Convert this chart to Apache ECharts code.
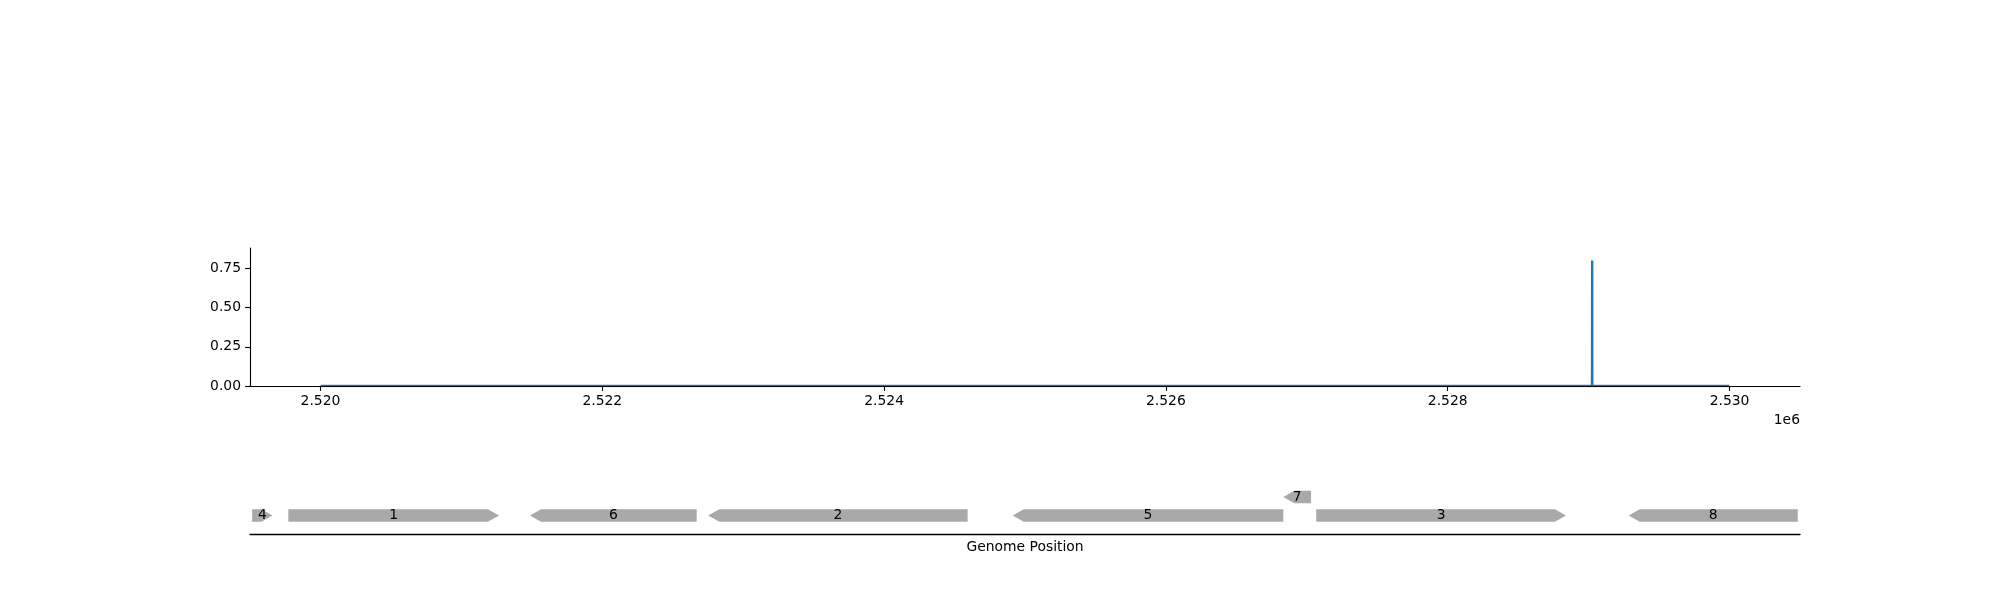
<!DOCTYPE html>
<html>
<head>
<meta charset="utf-8">
<script src="https://cdn.jsdelivr.net/npm/echarts@6/dist/echarts.min.js"></script>
<style>
html,body{margin:0;padding:0;background:#fff;}
#chart{width:2000px;height:600px;}
</style>
</head>
<body>
<div id="chart"></div>
<script>
// ---- data ----
const coverageX = [2520000, 2529024, 2529025, 2529026, 2530000];
const coverageY = [0, 0, 0.8, 0, 0];
const xTicks = [2520000, 2522000, 2524000, 2526000, 2528000, 2530000];
const yTicks = [0, 0.25, 0.5, 0.75];
const geneLabels = ['4', '1', '6', '2', '5', '7', '3', '8'];
const geneStarts = [2519515, 2519772, 2521487, 2522752, 2524913, 2526833, 2527067, 2529284];
const geneEnds   = [2519660, 2521267, 2522670, 2524593, 2526833, 2527030, 2528839, 2530484];
const geneStrands = [1, 1, -1, -1, -1, -1, 1, -1];
const geneLevels = [1, 1, 1, 1, 1, 2, 1, 1];

const X_MIN = 2519500, X_MAX = 2530500;
const FONT = 'DejaVu Sans';
const FS = 13.9;

const chart = echarts.init(document.getElementById('chart'), null, {renderer: 'canvas'});

const lineData = coverageX.map((x, i) => [x, coverageY[i]]);
const geneData = geneLabels.map((l, i) => [geneStarts[i], geneEnds[i], geneLevels[i], geneStrands[i], l]);

const GENE_H = 0.67;   // in track units
const HEAD_PX = 11;

function renderGene(params, api) {
  const s = api.value(0), e = api.value(1), lvl = api.value(2), strand = api.value(3);
  const label = geneLabels[params.dataIndex];
  const p0 = api.coord([s, lvl]);
  const p1 = api.coord([e, lvl]);
  const h = api.size([0, GENE_H])[1];
  const x0 = p0[0], x1 = p1[0], y = p0[1];
  const head = Math.min(HEAD_PX, (x1 - x0));
  let pts;
  if (strand > 0) {
    pts = [[x0, y - h/2], [x1 - head, y - h/2], [x1, y], [x1 - head, y + h/2], [x0, y + h/2]];
  } else {
    pts = [[x0, y], [x0 + head, y - h/2], [x1, y - h/2], [x1, y + h/2], [x0 + head, y + h/2]];
  }
  return {
    type: 'group',
    children: [
      {type: 'polygon', shape: {points: pts}, style: {fill: '#a9a9a9', stroke: null}},
      {type: 'text', style: {text: label, x: (x0 + x1) / 2, y: y, align: 'center', verticalAlign: 'middle',
        fill: '#000', font: FS + 'px "' + FONT + '"'}}
    ]
  };
}

const option = {
  backgroundColor: '#fff',
  animation: false,
  textStyle: {fontFamily: FONT},
  grid: [
    {left: 250, width: 1550, top: 248, height: 138},
    {left: 250, width: 1550, top: 478.5, height: 55.5}
  ],
  xAxis: [
    {
      type: 'value', gridIndex: 0, min: X_MIN, max: X_MAX, z: 5,
      axisLine: {show: true, onZero: false, lineStyle: {color: '#000', width: 1.1}},
      axisTick: {show: true, length: 4.9, lineStyle: {color: '#000', width: 1.1}, customValues: xTicks},
      axisLabel: {show: true, margin: 8, color: '#000', fontSize: FS, fontFamily: FONT, customValues: xTicks,
        formatter: v => (v / 1e6).toFixed(3)},
      splitLine: {show: false}
    },
    {
      type: 'value', gridIndex: 1, min: X_MIN, max: X_MAX,
      axisLine: {show: true, onZero: false, lineStyle: {color: '#000', width: 1.4}},
      axisTick: {show: false}, axisLabel: {show: false}, splitLine: {show: false},
      name: 'Genome Position', nameLocation: 'middle', nameGap: 6,
      nameTextStyle: {color: '#000', fontSize: FS, fontFamily: FONT}
    }
  ],
  yAxis: [
    {
      type: 'value', gridIndex: 0, min: 0, max: 0.88, z: 5,
      axisLine: {show: true, onZero: false, lineStyle: {color: '#000', width: 1.1}},
      axisTick: {show: true, length: 4.9, lineStyle: {color: '#000', width: 1.1}, customValues: yTicks},
      axisLabel: {show: true, margin: 9, color: '#000', fontSize: FS, fontFamily: FONT, customValues: yTicks,
        formatter: v => v.toFixed(2)},
      splitLine: {show: false}
    },
    {
      type: 'value', gridIndex: 1, min: 0, max: 3,
      axisLine: {show: false}, axisTick: {show: false}, axisLabel: {show: false}, splitLine: {show: false}
    }
  ],
  series: [
    {
      type: 'line', xAxisIndex: 0, yAxisIndex: 0, data: lineData,
      showSymbol: false, symbol: 'none', z: 2,
      lineStyle: {color: '#1f77b4', width: 2.4}
    },
    {
      type: 'custom', xAxisIndex: 1, yAxisIndex: 1, data: geneData,
      renderItem: renderGene, clip: false
    }
  ],
  graphic: [
    {type: 'text', right: 200, top: 413, style: {text: '1e6', fill: '#000', font: FS + 'px "' + FONT + '"', align: 'right'}}
  ]
};
chart.setOption(option);
</script>
</body>
</html>
